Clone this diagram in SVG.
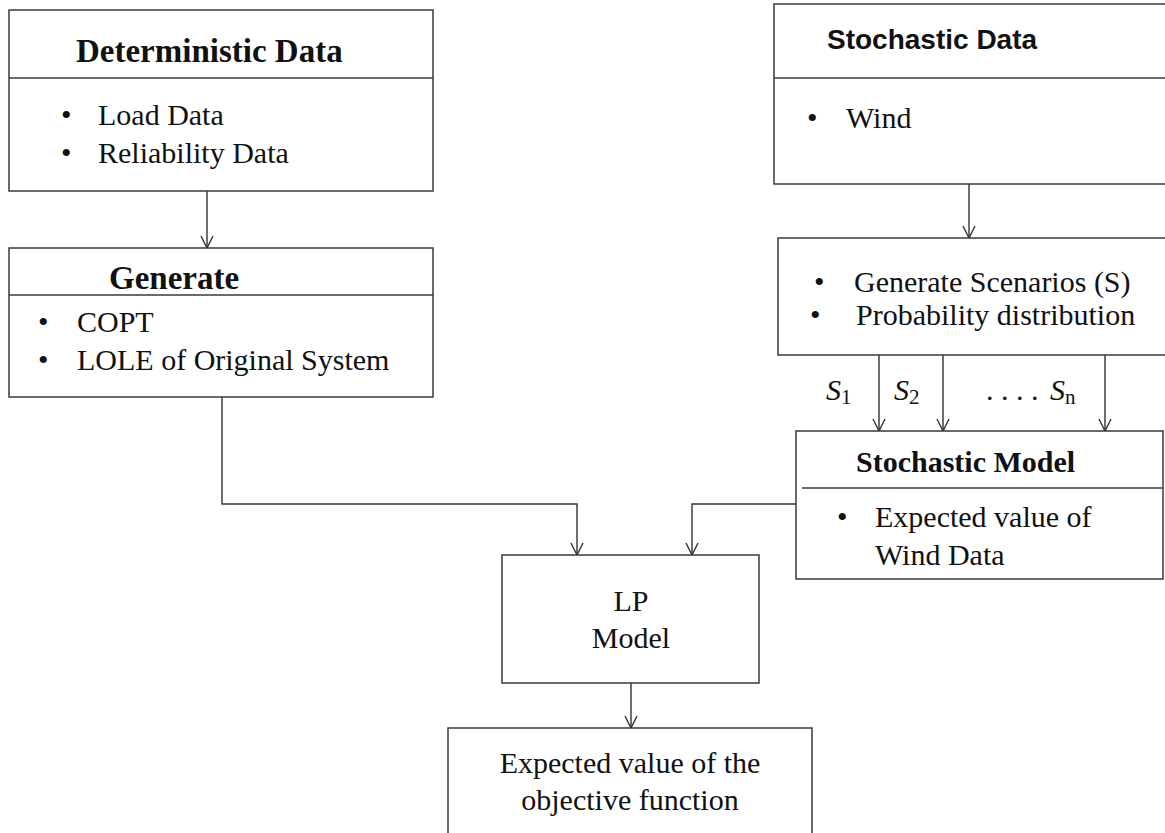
<svg xmlns="http://www.w3.org/2000/svg" width="1165" height="833" viewBox="0 0 1165 833">
<defs>
<marker id="arr" markerUnits="userSpaceOnUse" markerWidth="14" markerHeight="14" viewBox="0 0 14 14" refX="13" refY="7" orient="auto">
<path d="M1,1 L13,7 L1,13" fill="none" stroke="#333" stroke-width="1.4"/>
</marker>
<style>
.box{fill:#fff;stroke:#3a3a3a;stroke-width:1.5}
.div{stroke:#3a3a3a;stroke-width:1.5}
.con{fill:none;stroke:#333;stroke-width:1.4;marker-end:url(#arr)}
.ln{fill:none;stroke:#333;stroke-width:1.4}
.t{font-family:"Liberation Serif","Times New Roman",serif;font-size:30px;fill:#111}
.b{font-family:"Liberation Serif","Times New Roman",serif;font-weight:bold;fill:#111}
.s{font-family:"Liberation Sans",Arial,sans-serif;font-weight:bold;font-size:28px;fill:#111}
.m{font-family:"Liberation Serif","Times New Roman",serif;font-style:italic;font-size:30px;fill:#111}
.sub{font-size:21px;font-style:normal}
</style>
</defs>
<rect width="1165" height="833" fill="#fff"/>
<g id="connectors">
<line class="con" x1="207" y1="191" x2="207" y2="248"/>
<line class="con" x1="969" y1="184" x2="969" y2="238"/>
<line class="con" x1="879" y1="355" x2="879" y2="431"/>
<line class="con" x1="943" y1="355" x2="943" y2="431"/>
<line class="con" x1="1105" y1="355" x2="1105" y2="431"/>
<path class="con" d="M222,397 L222,504 L577,504 L577,555"/>
<path class="con" d="M796,504 L692,504 L692,555"/>
<line class="con" x1="631" y1="683" x2="631" y2="728"/>
</g>
<g id="deterministic">
<rect class="box" x="9" y="10" width="424" height="181"/>
<line class="div" x1="9" y1="78" x2="433" y2="78"/>
<text class="b" x="76" y="62" font-size="33">Deterministic Data</text>
<text class="t" x="61" y="125">•</text>
<text class="t" x="98" y="125">Load Data</text>
<text class="t" x="61" y="163">•</text>
<text class="t" x="98" y="163">Reliability Data</text>
</g>
<g id="generate">
<rect class="box" x="9" y="248" width="424" height="149"/>
<line class="div" x1="9" y1="295" x2="433" y2="295"/>
<text class="b" x="109" y="289" font-size="33">Generate</text>
<text class="t" x="38" y="332">•</text>
<text class="t" x="77" y="332">COPT</text>
<text class="t" x="38" y="370">•</text>
<text class="t" x="77" y="370">LOLE of Original  System</text>
</g>
<g id="stochastic-data">
<rect class="box" x="774" y="4" width="400" height="180"/>
<line class="div" x1="774" y1="78" x2="1170" y2="78"/>
<text class="s" x="827" y="49">Stochastic Data</text>
<text class="t" x="807" y="128">•</text>
<text class="t" x="846" y="128">Wind</text>
</g>
<g id="scenarios">
<rect class="box" x="778" y="238" width="396" height="117"/>
<text class="t" x="814" y="292">•</text>
<text class="t" x="854" y="292">Generate Scenarios (S)</text>
<text class="t" x="810" y="325">•</text>
<text class="t" x="856" y="325">Probability distribution</text>
</g>
<g id="labels">
<text class="m" x="826" y="400">S<tspan class="sub" dy="4">1</tspan></text>
<text class="m" x="894" y="400">S<tspan class="sub" dy="4">2</tspan></text>
<text class="t" x="986" y="400">. . . .</text>
<text class="m" x="1050" y="400">S<tspan class="sub" dy="4" font-style="italic">n</tspan></text>
</g>
<g id="stochastic-model">
<rect class="box" x="796" y="431" width="367" height="148"/>
<line class="div" x1="802" y1="488" x2="1163" y2="488"/>
<text class="b" x="856" y="472" font-size="30">Stochastic Model</text>
<text class="t" x="837" y="527">•</text>
<text class="t" x="875" y="527">Expected value of</text>
<text class="t" x="875" y="565">Wind Data</text>
</g>
<g id="lp-model">
<rect class="box" x="502" y="555" width="257" height="128"/>
<text class="t" x="631" y="611" text-anchor="middle">LP</text>
<text class="t" x="631" y="648" text-anchor="middle">Model</text>
</g>
<g id="objective">
<rect class="box" x="448" y="728" width="364" height="120"/>
<text class="t" x="630" y="773" text-anchor="middle">Expected value of the</text>
<text class="t" x="630" y="810" text-anchor="middle">objective function</text>
</g>
</svg>
